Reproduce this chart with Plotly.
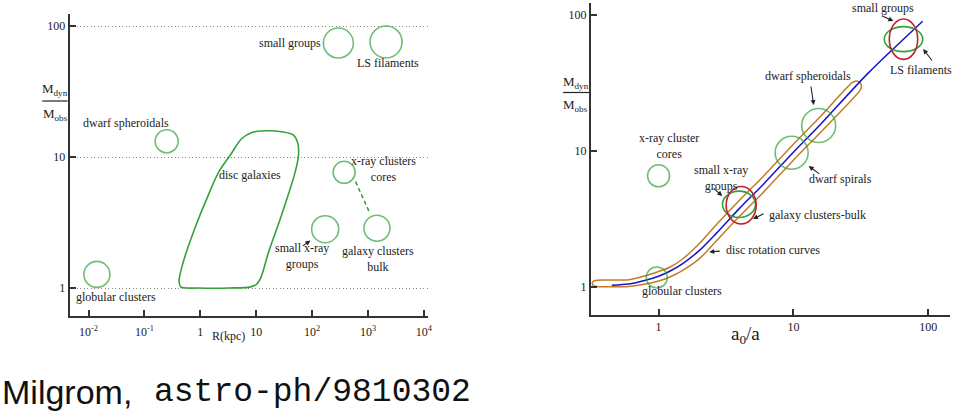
import math
import plotly.graph_objects as go

# ===================== DATA =====================
# ---- left panel: R (kpc) vs Mdyn/Mobs ----
left_names = ["globular clusters", "dwarf spheroidals", "small groups", "LS filaments",
              "x-ray clusters cores", "small x-ray groups", "galaxy clusters bulk"]
left_R = [0.0141, 0.250, 294, 2100, 373, 171, 1442]
left_ratio = [1.27, 13.2, 74.1, 75.5, 7.64, 2.81, 2.86]

# outline of the "disc galaxies" region (closed)
disc_R = [0.447, 0.946, 3.24, 7.88, 10.2, 12.0, 16.7, 28.4, 49.9, 57.0, 55.5, 46.5,
          28.4, 12.5, 8.41, 5.58, 3.47, 2.15, 1.24, 0.72, 0.478, 0.417, 0.447]
disc_ratio = [1.02, 1.0, 1.0, 1.02, 1.07, 1.19, 1.89, 3.61, 7.73, 10.4, 12.7, 14.7,
              15.6, 15.8, 15.4, 13.9, 10.4, 7.73, 4.56, 2.54, 1.50, 1.12, 1.02]

# dashed link: x-ray cluster cores -> galaxy clusters bulk
link_R = [598, 1079]
link_ratio = [6.48, 3.72]

left_xticks = [0.01, 0.1, 1, 10, 100, 1000, 10000]
left_xticklabels = ["10<sup>-2</sup>", "10<sup>-1</sup>", "1", "10",
                    "10<sup>2</sup>", "10<sup>3</sup>", "10<sup>4</sup>"]
ratio_ticks = [1, 10, 100]
ratio_ticklabels = ["1", "10", "100"]

# ---- right panel: a0/a vs Mdyn/Mobs ----
right_circle_names = ["x-ray cluster cores", "globular clusters", "dwarf spirals", "dwarf spheroidals"]
right_circle_a = [1.0, 0.97, 9.71, 15.4]
right_circle_ratio = [6.57, 1.175, 9.70, 15.4]

ellipse_names = ["small x-ray groups", "galaxy clusters-bulk", "LS filaments", "small groups"]
ellipse_a = [3.95, 4.10, 65.6, 65.6]
ellipse_ratio = [4.05, 3.99, 66.4, 66.4]

# MOND prediction curve
mond_a = [0.45, 0.6, 0.8, 1.0, 1.2, 1.5, 2.0, 2.7, 4.0, 6.0, 10, 16, 36, 91]
mond_ratio = [1.03, 1.05, 1.12, 1.2, 1.3, 1.48, 1.85, 2.5, 3.8, 5.7, 9.8, 15.8, 37.5, 90]

# disc rotation curves band (closed outline)
band_a = [0.348, 0.329, 0.322, 0.329, 0.348,
          0.6, 0.8, 1.0, 1.2, 1.5, 2.0, 2.7, 4.0, 6.0, 10, 16,
          27.3, 29.2, 31.2, 32.0, 31.2,
          16, 10, 6.0, 4.0, 2.7, 2.0, 1.5, 1.2, 1.0, 0.8, 0.6, 0.348]
band_ratio = [1.009, 1.026, 1.065, 1.103, 1.122,
              1.13, 1.21, 1.30, 1.39, 1.60, 2.08, 2.89, 4.36, 6.53, 11.2, 18.1,
              31.8, 32.7, 31.8, 29.8, 27.9,
              13.8, 8.56, 4.98, 3.32, 2.20, 1.61, 1.32, 1.18, 1.107, 1.05, 1.01, 1.009]

right_xticks = [1, 10, 100]
right_xticklabels = ["1", "10", "100"]

# ===================== STYLE =====================
W, H = 960, 417
GREEN = "#33a23a"
RED = "#c21f2b"
BLUE = "#1414c4"
ORANGE = "#c47a26"
INK = "#222222"
AXIS = "#333333"
SERIF = "Liberation Serif"

left_diam = {"globular clusters": 26, "dwarf spheroidals": 23, "small groups": 30,
             "LS filaments": 32, "x-ray clusters cores": 22, "small x-ray groups": 27,
             "galaxy clusters bulk": 26}
right_diam = {"x-ray cluster cores": 22, "globular clusters": 21,
              "dwarf spirals": 33, "dwarf spheroidals": 34}
ellipse_style = {"small x-ray groups": (16.5, 13.2, GREEN),
                 "galaxy clusters-bulk": (15, 18.7, RED),
                 "LS filaments": (19.2, 12.5, GREEN),
                 "small groups": (14.2, 20.2, RED)}

X2_RANGE = [-0.502, 2.162]
Y2_RANGE = [-0.206, 2.088]


def px(x):
    return x / W


def py(y):
    return 1 - y / H


fig = go.Figure()

# ---- left panel traces ----
fig.add_trace(go.Scatter(x=disc_R, y=disc_ratio, mode="lines", xaxis="x", yaxis="y",
                         line=dict(color=GREEN, width=1.6, shape="spline", smoothing=1.0),
                         hoverinfo="skip"))
fig.add_trace(go.Scatter(x=link_R, y=link_ratio, mode="lines", xaxis="x", yaxis="y",
                         line=dict(color=GREEN, width=1.6, dash="4px,3px"), hoverinfo="skip"))
fig.add_trace(go.Scatter(x=left_R, y=left_ratio, mode="markers", xaxis="x", yaxis="y",
                         text=left_names,
                         marker=dict(symbol="circle-open", color=GREEN,
                                     size=[left_diam[n] for n in left_names],
                                     line=dict(color=GREEN, width=1.6))))

# ---- right panel traces ----
fig.add_trace(go.Scatter(x=band_a, y=band_ratio, mode="lines", xaxis="x2", yaxis="y2",
                         line=dict(color=ORANGE, width=1.5, shape="spline", smoothing=0.8),
                         hoverinfo="skip"))
fig.add_trace(go.Scatter(x=mond_a, y=mond_ratio, mode="lines", xaxis="x2", yaxis="y2",
                         line=dict(color=BLUE, width=1.5, shape="spline", smoothing=0.8),
                         hoverinfo="skip"))
fig.add_trace(go.Scatter(x=right_circle_a, y=right_circle_ratio, mode="markers",
                         xaxis="x2", yaxis="y2", text=right_circle_names,
                         marker=dict(symbol="circle-open", color=GREEN,
                                     size=[right_diam[n] for n in right_circle_names],
                                     line=dict(color=GREEN, width=1.6))))

# ellipse centres on a linear (log10) overlay of the right panel, so that
# pixel-sized ellipses can be anchored there
ell_lx = [math.log10(a) for a in ellipse_a]
ell_ly = [math.log10(r) for r in ellipse_ratio]
fig.add_trace(go.Scatter(x=ell_lx, y=ell_ly, mode="markers", xaxis="x3", yaxis="y3",
                         text=ellipse_names, marker=dict(size=4, opacity=0),
                         hoverinfo="text"))

shapes = []
for n, lx, ly in zip(ellipse_names, ell_lx, ell_ly):
    rx, ry, col = ellipse_style[n]
    shapes.append(dict(type="circle", xref="x3", yref="y3",
                       xsizemode="pixel", ysizemode="pixel",
                       xanchor=lx, yanchor=ly, x0=-rx, x1=rx, y0=-ry, y1=ry,
                       line=dict(color=col, width=1.6), layer="above"))

# fraction bars of the y titles
shapes.append(dict(type="line", xref="paper", yref="paper",
                   x0=px(42.5), x1=px(68), y0=py(101), y1=py(101),
                   line=dict(color=INK, width=1.2)))
shapes.append(dict(type="line", xref="paper", yref="paper",
                   x0=px(566), x1=px(592), y0=py(92.5), y1=py(92.5),
                   line=dict(color=INK, width=1.2)))

# ---- annotations ----
ann = []


def label(text, x, y, size=12, family=SERIF, xanchor="center", color=INK):
    ann.append(dict(text=text, x=px(x), y=py(y), xref="paper", yref="paper",
                    xanchor=xanchor, yanchor="middle", showarrow=False,
                    font=dict(family=family, size=size, color=color)))


def arrow(hx, hy, tx, ty):
    ann.append(dict(text="", x=px(hx), y=py(hy), xref="paper", yref="paper",
                    ax=tx - hx, ay=ty - hy, showarrow=True, arrowhead=2,
                    arrowsize=0.9, arrowwidth=1.1, arrowcolor=INK, standoff=0))


# left panel labels
label("small groups", 292, 43)
label("LS filaments", 390, 63)
label("dwarf spheroidals", 127, 123)
label("disc galaxies", 251, 175)
label("x-ray clusters<br>cores", 386, 169)
label("small x-ray<br>groups", 304, 256)
label("galaxy clusters<br>bulk", 380, 259)
label("globular clusters", 117, 297)
label("R(kpc)", 230, 336)
label("M<sub>dyn</sub>", 55.5, 89, size=13)
label("M<sub>obs</sub>", 55.5, 114, size=13)
arrow(312, 240.5, 303, 247)

# right panel labels
label("small groups", 888, 8)
label("LS filaments", 926, 70)
label("dwarf spheroidals", 812, 76)
label("x-ray cluster<br>cores", 672, 145.5)
label("dwarf spirals", 845, 179)
label("small x-ray<br>groups", 725, 178)
label("galaxy clusters-bulk", 822, 215)
label("disc rotation curves", 777, 250)
label("globular clusters", 686, 291)
label("a<sub>0</sub>/a", 749, 335, size=19)
label("M<sub>dyn</sub>", 579, 82, size=13)
label("M<sub>obs</sub>", 579, 105, size=13)
arrow(898, 21, 885, 15)
arrow(928, 49, 938, 62)
arrow(818, 105, 815, 85)
arrow(813, 166, 825, 175)
arrow(726, 196, 716, 187)
arrow(757, 219, 769, 213)
arrow(713, 252, 725, 251)

# credit line
label("Milgrom,", 0, 392, size=34, family="Liberation Sans", xanchor="left", color="#111")
label("astro-ph/9810302", 153, 392, size=33, family="Liberation Mono", xanchor="left", color="#111")

tickfont = dict(family=SERIF, size=12, color=INK)
common = dict(type="log", showline=True, linecolor=AXIS, linewidth=2, ticks="inside",
              ticklen=6, tickwidth=1.5, tickcolor=AXIS, zeroline=False, tickfont=tickfont,
              fixedrange=True)

fig.update_layout(
    width=W, height=H, margin=dict(l=0, r=0, t=0, b=0),
    paper_bgcolor="white", plot_bgcolor="white", showlegend=False,
    xaxis=dict(domain=[px(70), px(430)], range=[-2.338, 4.068], anchor="y",
               tickvals=left_xticks, ticktext=left_xticklabels, showgrid=False,
               ticklabelstandoff=4, **common),
    yaxis=dict(domain=[py(316), py(14)], range=[-0.2137, 2.0916], anchor="x",
               tickvals=ratio_ticks, ticktext=ratio_ticklabels, showgrid=True,
               gridcolor="#888888", griddash="1px,2.5px", gridwidth=1, **common),
    xaxis2=dict(domain=[px(594), px(955)], range=X2_RANGE, anchor="y2",
                tickvals=right_xticks, ticktext=right_xticklabels, showgrid=False,
                **common),
    yaxis2=dict(domain=[py(315), py(3)], range=Y2_RANGE, anchor="x2",
                tickvals=ratio_ticks, ticktext=ratio_ticklabels, showgrid=False, **common),
    xaxis3=dict(type="linear", overlaying="x2", range=X2_RANGE, visible=False,
                anchor="y3", fixedrange=True),
    yaxis3=dict(type="linear", overlaying="y2", range=Y2_RANGE, visible=False,
                anchor="x3", fixedrange=True),
    shapes=shapes, annotations=ann,
)

fig.write_html("out.html", config={"displayModeBar": False},
               post_script="document.body.style.margin='0';")
